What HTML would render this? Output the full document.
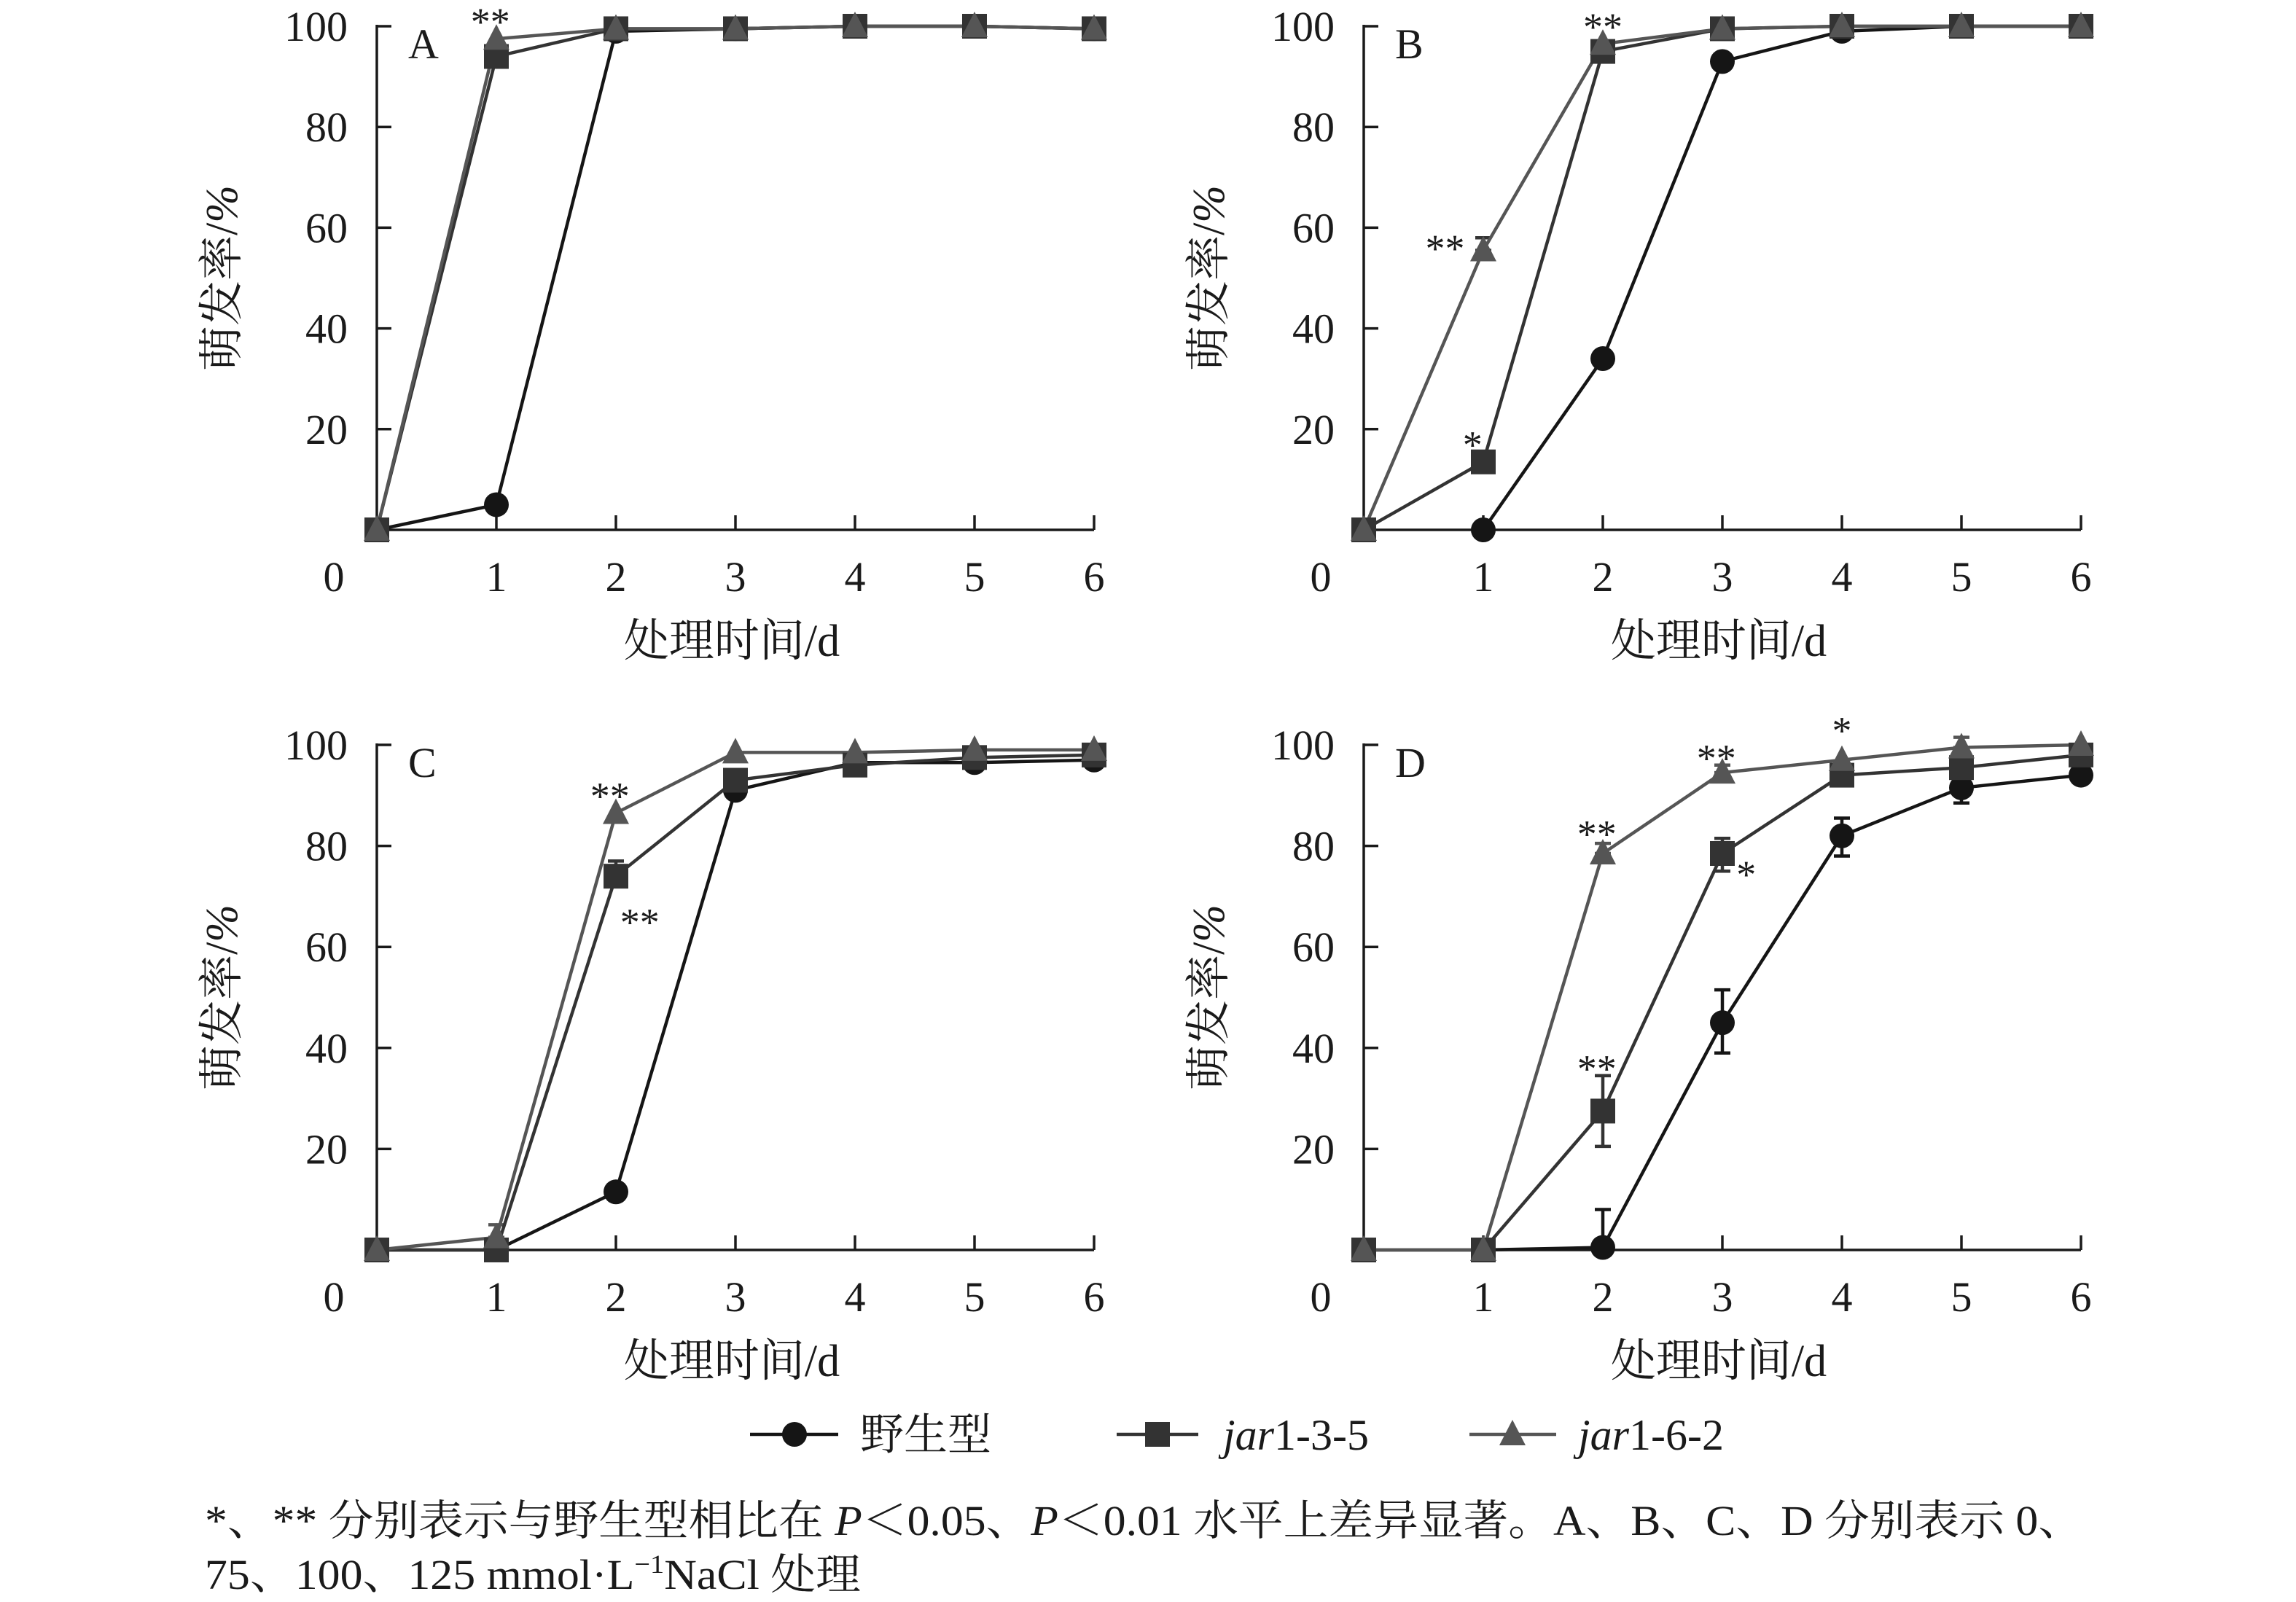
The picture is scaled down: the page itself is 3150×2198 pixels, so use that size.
<!DOCTYPE html>
<html><head><meta charset="utf-8"><style>
html,body{margin:0;padding:0;background:#fff}
svg{display:block}
text{font-family:"Liberation Serif","Noto Serif CJK SC",serif;fill:#1a1a1a}
</style></head><body>
<svg id="s" width="3150" height="2198" viewBox="0 0 3150 2198" xmlns="http://www.w3.org/2000/svg"></svg>
<script>
const S=document.getElementById('s');let h='';
const C=['#151515','#333','#555'];
const panels=[
{ax:517,y100:36,y0:727,lab:'A',
 d:[[[0,0],[1,5],[2,99],[3,99.5],[4,100],[5,100],[6,99.5]],
    [[0,0],[1,94],[2,99.5],[3,99.5],[4,100],[5,100],[6,99.5]],
    [[0,0],[1,97.5],[2,99.5],[3,99.5],[4,100],[5,100],[6,99.5]]],
 err:[],stars:[[1,'**',-0.05,102]]},
{ax:1871,y100:36,y0:727,lab:'B',
 d:[[[1,0],[2,34],[3,93],[4,99],[5,100],[6,100]],
    [[0,0],[1,13.5],[2,95],[3,99.5],[4,100],[5,100],[6,100]],
    [[0,0],[1,55.5],[2,96.5],[3,99.5],[4,100],[5,100],[6,100]]],
 err:[[1,1,55.5,58]],stars:[[1,'*',-0.09,18],[1,'**',-0.32,57],[2,'**',0,101]]},
{ax:517,y100:1022,y0:1715,lab:'C',
 d:[[[0,0],[1,0],[2,11.5],[3,91],[4,96.5],[5,96.5],[6,97]],
    [[0,0],[1,0],[2,74],[3,93],[4,96],[5,97.5],[6,98]],
    [[0,0],[1,2.5],[2,86.5],[3,98.5],[4,98.5],[5,99],[6,99]]],
 err:[[2,1,2.5,5],[1,2,74,77]],stars:[[2,'**',-0.05,91],[2,'**',0.2,66]]},
{ax:1871,y100:1022,y0:1715,lab:'D',
 d:[[[1,0],[2,0.5],[3,45],[4,82],[5,91.5],[6,94]],
    [[0,0],[1,0],[2,27.5],[3,78.5],[4,94],[5,95.5],[6,98]],
    [[0,0],[1,0],[2,78.5],[3,94.5],[4,97],[5,99.5],[6,100]]],
 err:[[0,2,0.5,8],[0,3,39,51.5],[0,4,78,85.5],[0,5,88.5,94],[1,2,20.5,34.5],[1,3,75,81.5],[2,2,78.5,80.5],[2,3,94.5,96],[2,5,99.5,101.5]],
 stars:[[2,'**',-0.05,83.5],[3,'**',-0.05,98.5],[4,'*',0,104],[2,'**',-0.05,37],[3,'*',0.2,75.5]]}
];
function mk(t,x,y){
 if(t==0)return `<circle cx="${x}" cy="${y}" r="17" fill="${C[0]}"/>`;
 if(t==1)return `<rect x="${x-17}" y="${y-17}" width="34" height="34" fill="${C[1]}"/>`;
 return `<polygon points="${x},${y-20} ${x-18},${y+15} ${x+18},${y+15}" fill="${C[2]}"/>`;
}
for(const p of panels){
 const sx=164,X=k=>p.ax+k*sx,Y=v=>p.y0-(p.y0-p.y100)*v/100;
 const x6=X(6);
 h+=`<line x1="${p.ax}" y1="${p.y100-2}" x2="${p.ax}" y2="${p.y0}" stroke="#1a1a1a" stroke-width="3.5"/>`;
 h+=`<line x1="${p.ax}" y1="${p.y0}" x2="${x6}" y2="${p.y0}" stroke="#1a1a1a" stroke-width="3.5"/>`;
 for(let v=20;v<=100;v+=20){h+=`<line x1="${p.ax}" y1="${Y(v)}" x2="${p.ax+20}" y2="${Y(v)}" stroke="#1a1a1a" stroke-width="3.5"/>`;
  h+=`<text x="${p.ax-40}" y="${Y(v)+20}" font-size="58" text-anchor="end">${v}</text>`;}
 for(let k=1;k<=6;k++){h+=`<line x1="${X(k)}" y1="${p.y0}" x2="${X(k)}" y2="${p.y0-20}" stroke="#1a1a1a" stroke-width="3.5"/>`;
  h+=`<text x="${X(k)}" y="${p.y0+84}" font-size="58" text-anchor="middle">${k}</text>`;}
 h+=`<text x="${p.ax-59}" y="${p.y0+84}" font-size="58" text-anchor="middle">0</text>`;
 h+=`<text x="${p.ax+487}" y="${p.y0+173}" font-size="62" text-anchor="middle">处理时间/d</text>`;
 const cy=(p.y0+p.y100)/2;
 h+=`<text transform="translate(${p.ax-192},${cy}) rotate(-90)" font-size="62" text-anchor="middle">萌发率/<tspan font-style="italic">%</tspan></text>`;
 h+=`<text x="${p.ax+43}" y="${p.y100+44}" font-size="58">${p.lab}</text>`;
 for(const e of p.err){const [s,k,a,b]=e;
  h+=`<path d="M${X(k)} ${Y(a)}V${Y(b)}M${X(k)-11} ${Y(b)}h22M${X(k)-11} ${Y(a)}h22" stroke="${C[s]}" stroke-width="4.5" fill="none"/>`;
 }
 for(let s=0;s<3;s++){h+=`<polyline points="${p.d[s].map(q=>X(q[0])+','+Y(q[1])).join(' ')}" fill="none" stroke="${C[s]}" stroke-width="4.5"/>`;}
 for(let s=0;s<3;s++)for(const q of p.d[s])h+=mk(s,X(q[0]),Y(q[1]));
 for(const st of p.stars)h+=`<text x="${X(st[0]+st[2])}" y="${Y(st[3])+26}" font-size="54" text-anchor="middle">${st[1]}</text>`;
}
const ly=1968;
h+=`<line x1="1029" y1="${ly}" x2="1150" y2="${ly}" stroke="${C[0]}" stroke-width="4.5"/>`+mk(0,1090,ly);
h+=`<text x="1180" y="${ly+21}" font-size="60">野生型</text>`;
h+=`<line x1="1532" y1="${ly}" x2="1644" y2="${ly}" stroke="${C[1]}" stroke-width="4.5"/>`+mk(1,1588,ly);
h+=`<text x="1678" y="${ly+21}" font-size="60"><tspan font-style="italic">jar</tspan>1-3-5</text>`;
h+=`<line x1="2016" y1="${ly}" x2="2135" y2="${ly}" stroke="${C[2]}" stroke-width="4.5"/>`+mk(2,2075,ly);
h+=`<text x="2165" y="${ly+21}" font-size="60"><tspan font-style="italic">jar</tspan>1-6-2</text>`;
h+=`<text x="281" y="2106" font-size="58" textLength="2577" lengthAdjust="spacingAndGlyphs">*、** 分别表示与野生型相比在 <tspan font-style="italic">P</tspan>＜0.05、<tspan font-style="italic">P</tspan>＜0.01 水平上差异显著。A、B、C、D 分别表示 0、</text>`;
h+=`<text x="281" y="2180" font-size="58" textLength="900" lengthAdjust="spacingAndGlyphs">75、100、125 mmol·L<tspan font-size="36" dy="-22">−1</tspan><tspan dy="22">NaCl 处理</tspan></text>`;
S.innerHTML=h;
</script>
</body></html>
